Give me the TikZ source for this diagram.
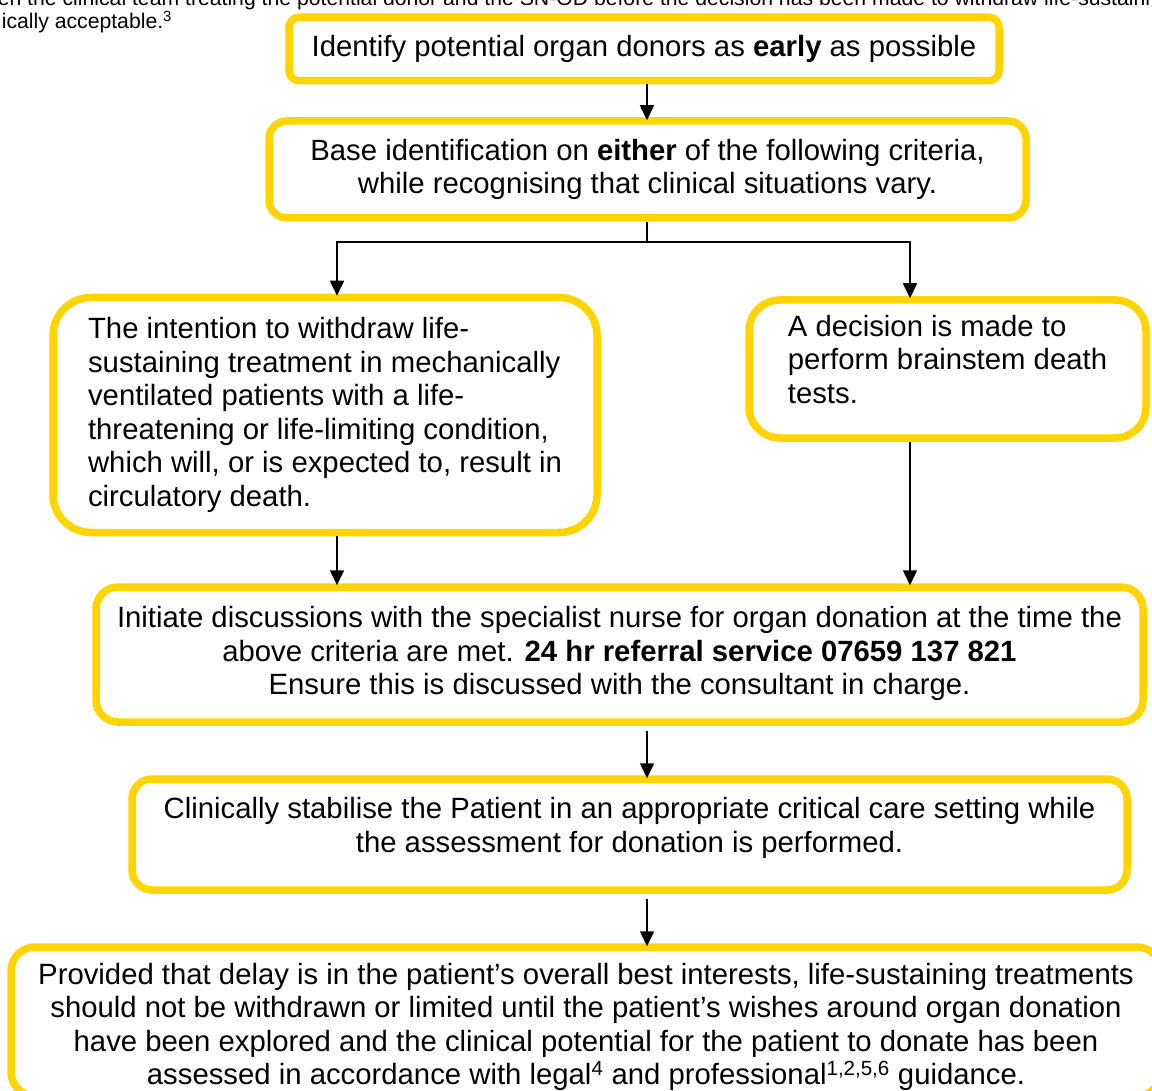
\documentclass[tikz,border=0pt]{standalone}
\usepackage{fontspec}
\setmainfont{Liberation Sans}
\usepackage{tikz}
\usetikzlibrary{arrows.meta,positioning}

\definecolor{donoryellow}{RGB}{255,212,0}

\tikzset{
  stepbox/.style={rectangle, draw=donoryellow, line width=7.5pt, fill=white,
    inner sep=0pt, outer sep=3.75pt, align=center,
    node font=\fontsize{29.3pt}{33.5pt}\selectfont},
  notetext/.style={anchor=base west, inner sep=0pt,
    node font=\fontsize{21.2pt}{23pt}\selectfont}
}

\begin{document}
\begin{tikzpicture}[x=1pt, y=-1pt, ->, >={Triangle[length=15pt,width=14pt]}, line width=1.6pt]
      \useasboundingbox (0,0) rectangle (1152,1091);
      % text of the page above the chart
      \node [notetext] (note1) at (-3,6) {en the clinical team treating the potential donor and the SN-OD before the decision has been made to withdraw life-sustaini};
      \node [notetext] (note2) at (1,29) {ically acceptable.\textsuperscript{3}};
      % boxes
      \node [stepbox, minimum width=710pt, minimum height=63.5pt, rounded corners=10pt] (b1) at (644,49)
        {Identify potential organ donors as \textbf{early} as possible};
      \node [stepbox, minimum width=757pt, minimum height=97pt, rounded corners=18pt] (b2) at (647.5,169.5)
        {Base identification on \textbf{either} of the following criteria,\\while recognising that clinical situations vary.};
      \node [stepbox, align=left, minimum width=544pt, minimum height=235pt, rounded corners=38pt] (b3) at (325,415)
        {The intention to withdraw life-\\sustaining treatment in mechanically\\ventilated patients with a life-\\threatening or life-limiting condition,\\which will, or is expected to, result in\\circulatory death.};
      \node [stepbox, align=left, minimum width=397pt, minimum height=138pt, rounded corners=31pt] (b4) at (947.5,369)
        {A decision is made to\\perform brainstem death\\tests.\\[-14pt]\mbox{}};
      \node [stepbox, minimum width=1047pt, minimum height=135pt, rounded corners=22pt] (b5) at (619.5,654.5)
        {Initiate discussions with the specialist nurse for organ donation at the time the\\above criteria are met. \textbf{24 hr referral service 07659 137 821}\\Ensure this is discussed with the consultant in charge.\\[-26pt]\mbox{}};
      \node [stepbox, minimum width=995pt, minimum height=111pt, rounded corners=20pt] (b6) at (629.5,834.5)
        {Clinically stabilise the Patient in an appropriate critical care setting while\\the assessment for donation is performed.\\[-14pt]\mbox{}};
      \node [stepbox, minimum width=1150pt, minimum height=149pt, rounded corners=24pt] (b7) at (586,1021.5)
        {Provided that delay is in the patient’s overall best interests, life-sustaining treatments\\should not be withdrawn or limited until the patient’s wishes around organ donation\\have been explored and the clinical potential for the patient to donate has been\\assessed in accordance with legal\textsuperscript{4} and professional\textsuperscript{1,2,5,6} guidance.\\[-38pt]\mbox{}};
      % connectors
      \coordinate (spine) at (647,0);
      \coordinate (split) at (647,242);
      \draw (b1.south -| spine) -- ([yshift=-3pt]spine |- b2.north);
      \draw [-] (b2.south -| spine) -- (split);
      \draw (split) -| ([xshift=12pt,yshift=-2pt]b3.north);
      \draw (split) -| ([xshift=-37.5pt,yshift=-2pt]b4.north);
      \draw ([xshift=12pt]b3.south) -- ([xshift=12pt,yshift=-2pt]b3.south |- b5.north);
      \draw ([xshift=-37.5pt]b4.south) -- ([xshift=-37.5pt,yshift=-2pt]b4.south |- b5.north);
      \draw ([yshift=-5pt]b5.south -| spine) -- ([yshift=-3pt]spine |- b6.north);
      \draw ([yshift=-5pt]b6.south -| spine) -- ([yshift=-3pt]spine |- b7.north);
\end{tikzpicture}
\end{document}
